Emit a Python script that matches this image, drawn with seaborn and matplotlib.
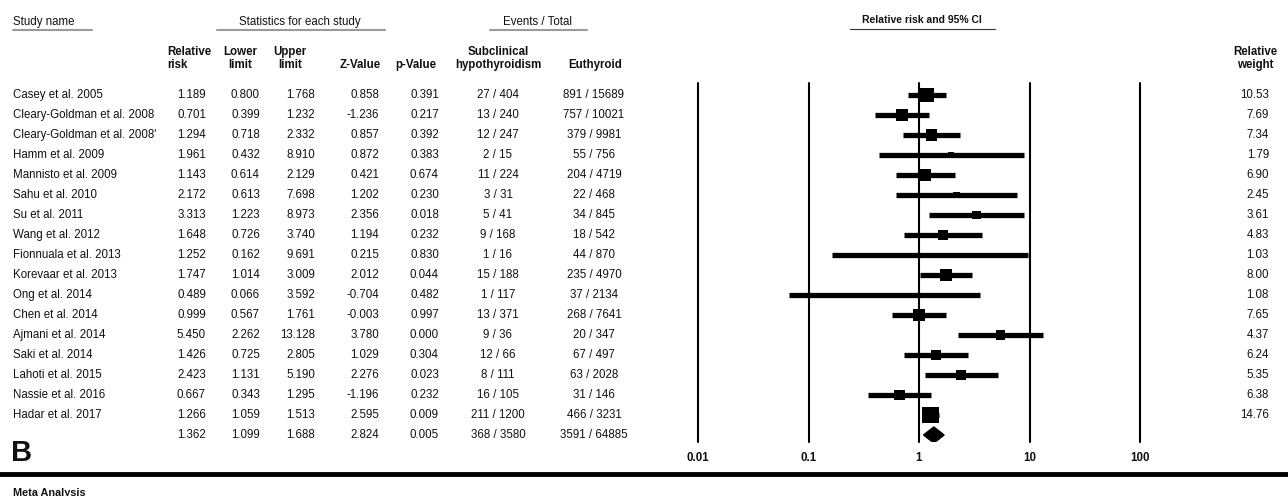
import numpy as np
import pandas as pd
import seaborn as sns
import matplotlib.pyplot as plt

# study level data
studies = ["Casey et al. 2005", "Cleary-Goldman et al. 2008", "Cleary-Goldman et al. 2008'",
           "Hamm et al. 2009", "Mannisto et al. 2009", "Sahu et al. 2010", "Su et al. 2011",
           "Wang et al. 2012", "Fionnuala et al. 2013", "Korevaar et al. 2013", "Ong et al. 2014",
           "Chen et al. 2014", "Ajmani et al. 2014", "Saki et al. 2014", "Lahoti et al. 2015",
           "Nassie et al. 2016", "Hadar et al. 2017"]
rr = [1.189, 0.701, 1.294, 1.961, 1.143, 2.172, 3.313, 1.648, 1.252, 1.747, 0.489,
      0.999, 5.450, 1.426, 2.423, 0.667, 1.266]
lower = [0.800, 0.399, 0.718, 0.432, 0.614, 0.613, 1.223, 0.726, 0.162, 1.014, 0.066,
         0.567, 2.262, 0.725, 1.131, 0.343, 1.059]
upper = [1.768, 1.232, 2.332, 8.910, 2.129, 7.698, 8.973, 3.740, 9.691, 3.009, 3.592,
         1.761, 13.128, 2.805, 5.190, 1.295, 1.513]
zval = [0.858, -1.236, 0.857, 0.872, 0.421, 1.202, 2.356, 1.194, 0.215, 2.012, -0.704,
        -0.003, 3.780, 1.029, 2.276, -1.196, 2.595]
pval = [0.391, 0.217, 0.392, 0.383, 0.674, 0.230, 0.018, 0.232, 0.830, 0.044, 0.482,
        0.997, 0.000, 0.304, 0.023, 0.232, 0.009]
sub_events = [27, 13, 12, 2, 11, 3, 5, 9, 1, 15, 1, 13, 9, 12, 8, 16, 211]
sub_total = [404, 240, 247, 15, 224, 31, 41, 168, 16, 188, 117, 371, 36, 66, 111, 105, 1200]
eu_events = [891, 757, 379, 55, 204, 22, 34, 18, 44, 235, 37, 268, 20, 67, 63, 31, 466]
eu_total = [15689, 10021, 9981, 756, 4719, 468, 845, 542, 870, 4970, 2134, 7641, 347, 497,
            2028, 146, 3231]
weights = [10.53, 7.69, 7.34, 1.79, 6.90, 2.45, 3.61, 4.83, 1.03, 8.00, 1.08, 7.65, 4.37,
           6.24, 5.35, 6.38, 14.76]

# pooled estimate
pooled = [1.362, 1.099, 1.688, 2.824, 0.005]
pooled_events = ["368 / 3580", "3591 / 64885"]

xticks = [0.01, 0.1, 1, 10, 100]
xtick_labels = ["0.01", "0.1", "1", "10", "100"]

sns.set_style("white")
plt.rcParams['font.family'] = ['Liberation Sans', 'DejaVu Sans']
plt.rcParams['text.color'] = '#111111'
plt.rcParams['xtick.color'] = '#111111'
fs = 8.3

W, H = 1288, 496
fig = plt.figure(figsize=(W / 100, H / 100), dpi=100)

# overlay axes in pixel units, for the table text
ax_t = fig.add_axes([0, 0, 1, 1])
ax_t.set_xlim(0, W)
ax_t.set_ylim(H, 0)
ax_t.axis("off")

row0, dy = 95, 20
n = len(studies)

# group headers with grey underline
for label, x, ha, x0, x1 in [("Study name", 13, "left", 13, 92),
                             ("Statistics for each study", 300, "center", 217, 385),
                             ("Events / Total", 538, "center", 490, 587)]:
    ax_t.text(x, 22, label, ha=ha, va="center", fontsize=fs)
    ax_t.plot([x0, x1], [30, 30], color="#9a9a9a", lw=1.5)
ax_t.text(922, 20, "Relative risk and 95% CI", ha="center", va="center", fontsize=fs - 0.8,
          fontweight="bold")
ax_t.plot([850, 995], [29, 29], color="#333333", lw=0.8)

# column headers
heads = [("Relative\nrisk", 167, "left"), ("Lower\nlimit", 240, "center"),
         ("Upper\nlimit", 290, "center"), ("Z-Value", 360, "center"),
         ("p-Value", 416, "center"), ("Subclinical\nhypothyroidism", 498, "center"),
         ("Euthyroid", 595, "center"), ("Relative\nweight", 1255, "center")]
for label, x, ha in heads:
    ax_t.text(x, 71, label, ha=ha, va="bottom", fontsize=fs, fontweight="bold",
              linespacing=1.1, multialignment=ha)

# table body
cols = [206, 260, 315, 379, 439]
for i in range(n):
    y = row0 + dy * i
    ax_t.text(13, y, studies[i], ha="left", va="center", fontsize=fs)
    for x, v in zip(cols, [rr[i], lower[i], upper[i], zval[i], pval[i]]):
        ax_t.text(x, y, f"{v:.3f}", ha="right", va="center", fontsize=fs)
    ax_t.text(498, y, f"{sub_events[i]} / {sub_total[i]}", ha="center", va="center", fontsize=fs)
    ax_t.text(594, y, f"{eu_events[i]} / {eu_total[i]}", ha="center", va="center", fontsize=fs)
    ax_t.text(1269, y, f"{weights[i]:.2f}", ha="right", va="center", fontsize=fs)

y = row0 + dy * n
for x, v in zip(cols, pooled):
    ax_t.text(x, y, f"{v:.3f}", ha="right", va="center", fontsize=fs)
ax_t.text(498, y, pooled_events[0], ha="center", va="center", fontsize=fs)
ax_t.text(594, y, pooled_events[1], ha="center", va="center", fontsize=fs)

# panel B
ax_t.text(11, 453, "B", ha="left", va="center", fontsize=21, fontweight="bold")
ax_t.axhline(474, color="black", lw=3.5)
ax_t.text(13, 493, "Meta Analysis", ha="left", va="center", fontsize=fs - 0.5, fontweight="bold")

# forest plot axes
x_left, x_right, y_top, y_bot = 698, 1140, 83, 442
axf = fig.add_axes([x_left / W, 1 - y_bot / H, (x_right - x_left) / W, (y_bot - y_top) / H])
axf.patch.set_alpha(0)
axf.set_xscale("log")
axf.set_xlim(0.01, 100)
axf.set_ylim((y_bot - row0) / dy, (y_top - row0) / dy)

df = pd.DataFrame({"rr": rr, "lower": lower, "upper": upper, "w": weights,
                   "row": np.arange(n)})

for xv in xticks:
    axf.axvline(xv, color="black", lw=1.5, clip_on=False, zorder=1)
axf.hlines(df["row"], df["lower"], df["upper"], color="black", lw=3.8, zorder=2)
sns.scatterplot(data=df, x="rr", y="row", size="w", sizes=(0, 145), size_norm=(0, 15),
                marker="s", color="black", edgecolor="black", linewidth=0, legend=False,
                ax=axf, zorder=3)

# pooled diamond
est, lo, hi = pooled[0], pooled[1], pooled[2]
axf.fill([lo, est, hi, est], [n, n - 0.4, n, n + 0.4], color="black", zorder=3)

axf.set_xticks(xticks)
axf.set_xticklabels(xtick_labels, fontsize=fs, fontweight="bold")
axf.minorticks_off()
axf.tick_params(axis="x", length=0, pad=7)
axf.set_yticks([])
axf.set_xlabel("")
axf.set_ylabel("")
for s in axf.spines.values():
    s.set_visible(False)

fig.savefig("out.png", dpi=100)
